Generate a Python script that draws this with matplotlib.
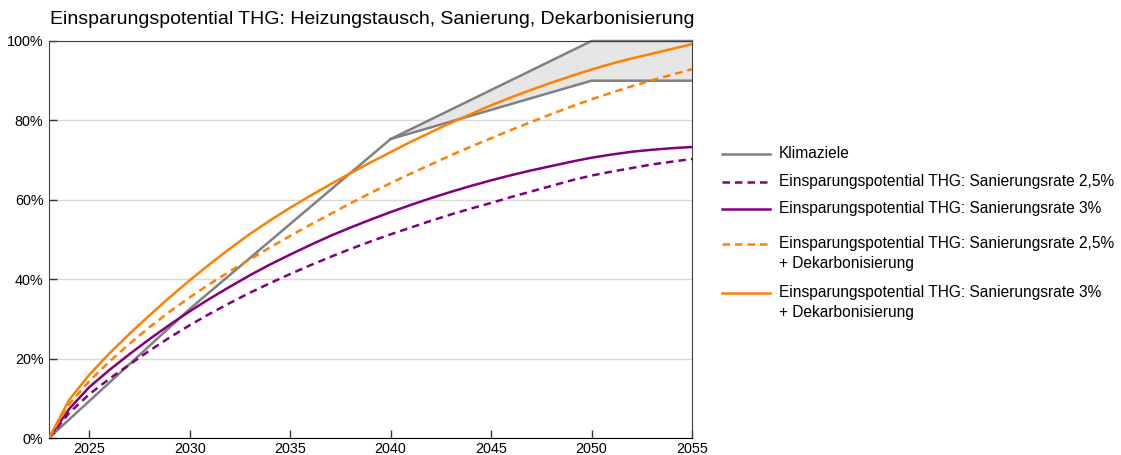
import matplotlib

matplotlib.use("Agg")
import matplotlib.pyplot as plt
from matplotlib.lines import Line2D
from matplotlib.ticker import FuncFormatter

plt.rcParams["font.family"] = ["Liberation Sans", "DejaVu Sans"]

# data (percent), one value per year
years = list(range(2023, 2056))
san25 = [0, 6.3, 11.0, 14.9, 18.5, 22.0, 25.3, 28.4, 31.3, 34.0, 36.6,
         39.0, 41.3, 43.5, 45.6, 47.6, 49.5, 51.3, 53.0, 54.7, 56.3,
         57.8, 59.2, 60.7, 62.1, 63.5, 64.9, 66.1, 67.1, 68.0, 68.9,
         69.6, 70.3]
san3 = [0, 7.3, 12.8, 17.1, 21.1, 24.9, 28.5, 31.9, 35.1, 38.1, 41.0,
        43.7, 46.2, 48.6, 50.9, 53.0, 55.0, 56.9, 58.7, 60.4, 62.0,
        63.5, 64.9, 66.2, 67.4, 68.5, 69.6, 70.6, 71.4, 72.1, 72.6,
        73.0, 73.3]
san25_dek = [0, 8.5, 14.3, 19.2, 23.7, 27.9, 31.8, 35.4, 38.8, 42.0, 45.0,
             48.0, 50.9, 53.7, 56.4, 59.1, 61.7, 64.2, 66.6, 68.9, 71.2,
             73.4, 75.5, 77.6, 79.6, 81.6, 83.5, 85.3, 87.0, 88.6, 90.1,
             91.5, 92.9]
san3_dek = [0, 9.6, 15.9, 21.3, 26.2, 30.9, 35.4, 39.7, 43.8, 47.7, 51.4,
            54.8, 58.0, 61.0, 63.9, 66.7, 69.4, 72.0, 74.6, 77.0, 79.4,
            81.6, 83.8, 85.8, 87.7, 89.5, 91.2, 92.8, 94.3, 95.6, 96.8,
            98.0, 99.2]

ziel_years = [2023, 2030, 2040, 2050, 2055]
ziel_low = [0, 32.5, 75.3, 90, 90]
ziel_band_years = [2040, 2050, 2055]
ziel_band_low = [75.3, 90, 90]
ziel_band_high = [75.3, 100, 100]

labels = [
    "Klimaziele",
    "Einsparungspotential THG: Sanierungsrate 2,5%",
    "Einsparungspotential THG: Sanierungsrate 3%",
    "Einsparungspotential THG: Sanierungsrate 2,5%\n+ Dekarbonisierung",
    "Einsparungspotential THG: Sanierungsrate 3%\n+ Dekarbonisierung",
]

GRAY = "#808080"
PURPLE = "#800080"
ORANGE = "#FF8000"
DASH = (0, (3, 2))
LW = 1.8

W, H = 1121, 455
fig = plt.figure(figsize=(W / 100, H / 100), dpi=100)
ax = fig.add_axes([49 / W, 1 - 438 / H, (692 - 49) / W, (438 - 41) / H])

ax.fill_between(ziel_band_years, ziel_band_low, ziel_band_high, color="#E6E6E6", lw=0, zorder=1)
ax.plot(ziel_years, ziel_low, color=GRAY, lw=LW, zorder=2)
ax.plot(ziel_band_years, ziel_band_high, color=GRAY, lw=LW, zorder=2, clip_on=False)
ax.plot(years, san25, color=PURPLE, lw=LW, ls=DASH, zorder=3)
ax.plot(years, san3, color=PURPLE, lw=LW, zorder=3)
ax.plot(years, san25_dek, color=ORANGE, lw=LW, ls=DASH, zorder=3)
ax.plot(years, san3_dek, color=ORANGE, lw=LW, zorder=3)

ax.set_xlim(2023, 2055)
ax.set_ylim(0, 100)
ax.set_xticks(range(2025, 2056, 5))
ax.set_yticks(range(0, 101, 20))
ax.yaxis.set_major_formatter(FuncFormatter(lambda v, p: f"{v:.0f}%"))
ax.grid(axis="y", color="#D9D9D9", lw=1)
ax.set_axisbelow(True)
ax.tick_params(direction="in", length=6, width=1, labelsize=10.4, color="#333333")
ax.tick_params(axis="x", pad=3)
ax.tick_params(axis="y", pad=4)
for side in ["top", "right", "left"]:
    ax.spines[side].set_color("#404040")
ax.spines["bottom"].set_color("#000000")

fig.text(50 / W, 1 - 20 / H, "Einsparungspotential THG: Heizungstausch, Sanierung, Dekarbonisierung",
         fontsize=14, ha="left", va="center")

# legend drawn by hand so the handles sit on the first text line
styles = [(GRAY, "-"), (PURPLE, DASH), (PURPLE, "-"), (ORANGE, DASH), (ORANGE, "-")]
rows = [154, 182, 209, 244, 293]
for (c, ls), y, txt in zip(styles, rows, labels):
    fy = 1 - y / H
    fig.add_artist(Line2D([722 / W, 770 / W], [fy, fy], color=c, ls=ls, lw=LW))
    fig.text(779 / W, fy + 8 / H, txt, fontsize=11.2, ha="left", va="top", linespacing=1.4)

fig.savefig("out.png", dpi=100, facecolor="white")
